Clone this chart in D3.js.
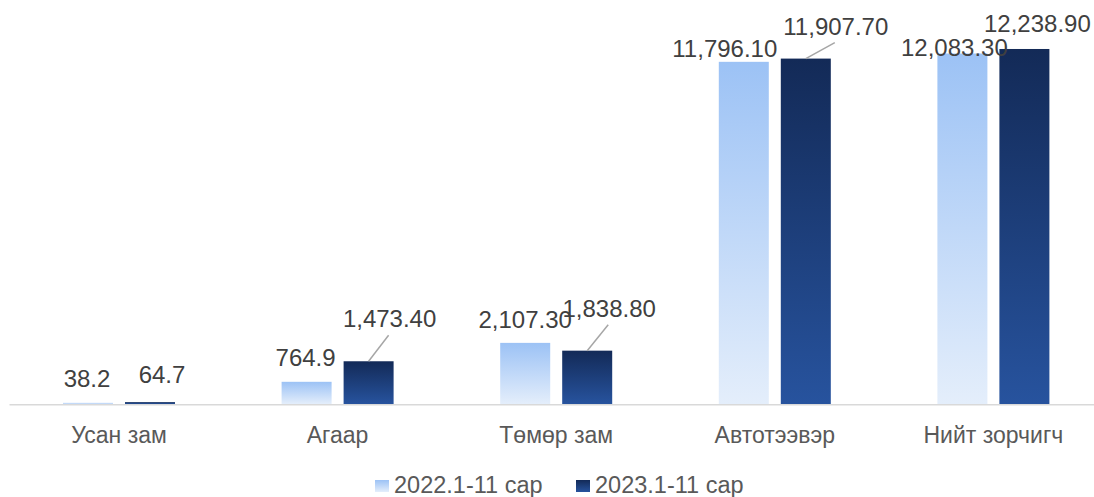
<!DOCTYPE html>
<html>
<head>
<meta charset="utf-8">
<script src="https://cdn.jsdelivr.net/npm/d3@7"></script>
<style>
  html, body { margin: 0; padding: 0; background: #ffffff; }
  svg { display: block; }
</style>
</head>
<body>
<svg id="chart" width="1094" height="497"></svg>
<script>
// ---- data ----
const categories = ["Усан зам", "Агаар", "Төмөр зам", "Автотээвэр", "Нийт зорчигч"];
const seriesNames = ["2022.1-11 сар", "2023.1-11 сар"];
const values2022 = [38.2, 764.9, 2107.3, 11796.1, 12083.3];
const values2023 = [64.7, 1473.4, 1838.8, 11907.7, 12238.9];
const labels2022 = ["38.2", "764.9", "2,107.30", "11,796.10", "12,083.30"];
const labels2023 = ["64.7", "1,473.40", "1,838.80", "11,907.70", "12,238.90"];

// ---- layout (manual label placement, as in the original) ----
const labelOffsets2022 = [[-1, -16], [-1, -16], [0, -15], [-19, -5], [-8, 2.5]];
const labelOffsets2023 = [[12, -19], [21, -34], [22, -34], [30, -24], [13, -17]];

const W = 1094, H = 497;
const baseY = 404;
const svg = d3.select("#chart");
const font = "'Liberation Sans', Arial, sans-serif";

const x = d3.scaleBand().domain(categories).range([9.7, 1102.7]).padding(0);
const xs = d3.scaleBand().domain(seriesNames).range([0, 112]).paddingInner(12 / 62).paddingOuter(0);
const y = d3.scaleLinear().domain([0, 14000]).range([baseY, -2.1]);

// gradients
const defs = svg.append("defs");
const grads = [
  { id: "g2022", top: "#9CC2F5", bottom: "#E4EEFB" },
  { id: "g2023", top: "#132A57", bottom: "#27539E" }
];
grads.forEach(g => {
  const lg = defs.append("linearGradient").attr("id", g.id)
    .attr("x1", 0).attr("y1", 0).attr("x2", 0).attr("y2", 1);
  lg.append("stop").attr("offset", "0%").attr("stop-color", g.top);
  lg.append("stop").attr("offset", "100%").attr("stop-color", g.bottom);
});

const series = [
  { name: seriesNames[0], values: values2022, labels: labels2022, offsets: labelOffsets2022, fill: "url(#g2022)" },
  { name: seriesNames[1], values: values2023, labels: labels2023, offsets: labelOffsets2023, fill: "url(#g2023)" }
];

// axis baseline
svg.append("line")
  .attr("x1", 9.5).attr("x2", 1094)
  .attr("y1", baseY + 0.75).attr("y2", baseY + 0.75)
  .attr("stroke", "#d9d9d9").attr("stroke-width", 1.5);

// bars
series.forEach(s => {
  svg.append("g").selectAll("rect")
    .data(categories.map((c, i) => ({ c, v: s.values[i] })))
    .join("rect")
    .attr("x", d => x(d.c) + x.bandwidth() / 2 - 56 + xs(s.name))
    .attr("width", xs.bandwidth())
    .attr("y", d => y(d.v))
    .attr("height", d => baseY - y(d.v))
    .attr("fill", s.fill);
});

// leader lines + data labels
series.forEach(s => {
  const g = svg.append("g");
  categories.forEach((c, i) => {
    const cx = x(c) + x.bandwidth() / 2 - 56 + xs(s.name) + xs.bandwidth() / 2;
    const top = y(s.values[i]);
    const [dx, dy] = s.offsets[i];
    const lx = cx + dx, ly = top + dy;
    if (Math.abs(ly + 8 - top) > 15) {
      g.append("line")
        .attr("x1", cx).attr("y1", top)
        .attr("x2", lx - 1).attr("y2", ly + 8)
        .attr("stroke", "#a6a6a6").attr("stroke-width", 1.5);
    }
    g.append("text")
      .attr("x", lx).attr("y", ly)
      .attr("text-anchor", "middle")
      .attr("font-family", font).attr("font-size", 24)
      .attr("fill", "#404040")
      .text(s.labels[i]);
  });
});

// category labels
svg.append("g").selectAll("text")
  .data(categories)
  .join("text")
  .attr("x", d => x(d) + x.bandwidth() / 2)
  .attr("y", 443)
  .attr("text-anchor", "middle")
  .attr("font-family", font).attr("font-size", 23)
  .attr("fill", "#595959")
  .text(d => d);

// legend
const legendItems = [
  { name: seriesNames[0], fill: "url(#g2022)", x: 375 },
  { name: seriesNames[1], fill: "url(#g2023)", x: 576 }
];
const lg = svg.append("g");
legendItems.forEach(it => {
  lg.append("rect").attr("x", it.x).attr("y", 480).attr("width", 14).attr("height", 12).attr("fill", it.fill);
  lg.append("text").attr("x", it.x + 19).attr("y", 493)
    .attr("font-family", font).attr("font-size", 23.5)
    .attr("fill", "#595959").text(it.name);
});
</script>
</body>
</html>
